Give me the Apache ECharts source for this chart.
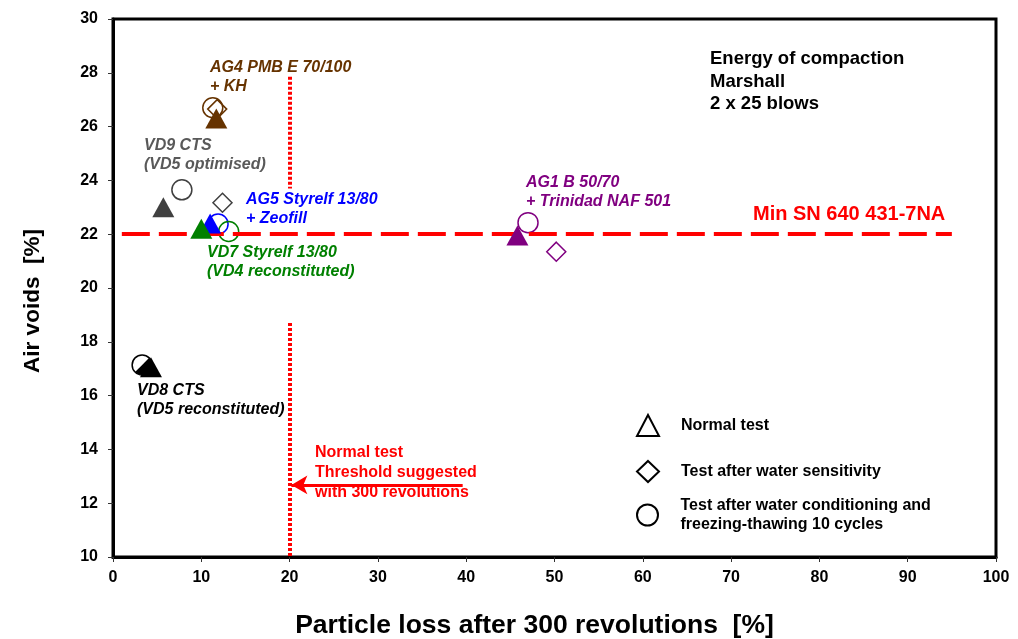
<!DOCTYPE html>
<html>
<head>
<meta charset="utf-8">
<script src="https://cdn.jsdelivr.net/npm/echarts@6/dist/echarts.min.js"></script>
<style>html,body{margin:0;padding:0;background:#fff}#c{width:1018px;height:639px}</style>
</head>
<body>
<div id="c"></div>
<script>
// ---- data ----
const groups = ['AG4 PMB E 70/100 + KH', 'VD9 CTS (VD5 optimised)', 'AG5 Styrelf 13/80 + Zeofill',
  'VD7 Styrelf 13/80 (VD4 reconstituted)', 'AG1 B 50/70 + Trinidad NAF 501', 'VD8 CTS (VD5 reconstituted)'];
const groupColors = ['#663300', '#404040', '#0000ff', '#008000', '#800080', '#000000'];
const normalTest = [[11.7, 26.3], [5.7, 23.0], [11.0, 22.4], [10.0, 22.2], [45.8, 21.95], [4.3, 17.05]];
const waterSensitivity = [[11.8, 26.65], [12.4, 23.17], null, null, [50.2, 21.35], null];
const freezeThaw = [[11.3, 26.7], [7.8, 23.65], [11.9, 22.38], [13.1, 22.1], [47.0, 22.43], [3.3, 17.14]];
const halfFilled = [false, false, false, false, false, true];
const minLimit = { y: 22, xFrom: 1, xTo: 95, label: 'Min SN 640 431-7NA' };
const threshold = { x: 20, segments: [[27.85, 23.7], [18.7, 10]] };
const arrow = { y: 12.68, xFrom: 39.6, xTo: 20.2 };
const xTicks = { min: 0, max: 100, interval: 10 };
const yTicks = { min: 10, max: 30, interval: 2 };
const legendNames = ['Normal test', 'Test after water sensitivity', 'Test after water conditioning and\nfreezing-thawing 10 cycles'];

const FONT = 'Liberation Sans, Arial, sans-serif';

function items(arr, fillSolid) {
  const out = [];
  arr.forEach((p, i) => {
    if (!p) return;
    out.push({
      value: p,
      itemStyle: fillSolid
        ? { color: groupColors[i], borderColor: groupColors[i], borderWidth: 0, opacity: 1 }
        : { color: 'rgba(0,0,0,0)', borderColor: groupColors[i], borderWidth: 1.5, opacity: 1 }
    });
  });
  return out;
}

const chart = echarts.init(document.getElementById('c'), null, { renderer: 'canvas' });

function txt(lines, x, yTop, color, size, lh, italic) {
  return {
    type: 'text', left: x, top: yTop, z: 50,
    style: {
      text: lines.join('\n'), fill: color, font: (italic ? 'italic ' : '') + 'bold ' + size + 'px ' + FONT,
      lineHeight: lh
    }
  };
}

const legendCommon = {
  orient: 'vertical', itemWidth: 22, itemHeight: 21, selectedMode: false,
  textStyle: { fontFamily: FONT, fontWeight: 'bold', fontSize: 16, color: '#000', lineHeight: 19, padding: [0, 0, 0, 17] }
};
const legendIcon = { color: '#fff', borderColor: '#000', borderWidth: 2, opacity: 1 };

chart.setOption({
  animation: false,
  backgroundColor: '#fff',
  grid: { left: 113, right: 22, top: 19, bottom: 82, outerBoundsMode: 'none', containLabel: false, show: true, borderColor: '#000', borderWidth: 3, backgroundColor: 'transparent' },
  xAxis: {
    type: 'value', min: xTicks.min, max: xTicks.max, interval: xTicks.interval,
    name: 'Particle loss after 300 revolutions  [%]', nameLocation: 'middle', nameGap: 55,
    nameTextStyle: { fontFamily: FONT, fontWeight: 'bold', fontSize: 26.5, color: '#000', padding: [0, 40, 0, 0] },
    axisLine: { show: true, lineStyle: { color: '#000', width: 3 } },
    axisTick: { show: true, inside: false, length: 5, lineStyle: { color: '#333', width: 1 } },
    axisLabel: { fontFamily: FONT, fontWeight: 'bold', fontSize: 16, color: '#000', margin: 13 },
    splitLine: { show: false }
  },
  yAxis: {
    type: 'value', min: yTicks.min, max: yTicks.max, interval: yTicks.interval,
    name: 'Air voids  [%]', nameLocation: 'middle', nameGap: 69,
    nameTextStyle: { fontFamily: FONT, fontWeight: 'bold', fontSize: 22.5, color: '#000', padding: [0, 26, 0, 0] },
    axisLine: { show: true, lineStyle: { color: '#000', width: 3 } },
    axisTick: { show: true, inside: false, length: 5, lineStyle: { color: '#333', width: 1 } },
    axisLabel: { fontFamily: FONT, fontWeight: 'bold', fontSize: 16, color: '#000', margin: 15 },
    splitLine: { show: false }
  },
  legend: [
    Object.assign({}, legendCommon, { left: 631, top: 409, data: [{ name: legendNames[0], icon: 'triangle', itemStyle: legendIcon }] }),
    Object.assign({}, legendCommon, { left: 631, top: 455, data: [{ name: legendNames[1], icon: 'diamond', itemStyle: legendIcon }] }),
    Object.assign({}, legendCommon, { left: 631, top: 491, data: [{ name: legendNames[2], icon: 'circle', itemStyle: legendIcon }] })
  ],
  series: [
    {
      name: 'lines', type: 'line', data: [], z: 1,
      markLine: {
        silent: true, symbol: 'none', animation: false, label: { show: false },
        data: [
          [{ coord: [minLimit.xFrom, minLimit.y], lineStyle: { color: '#ff0000', width: 4, type: [28, 9] } }, { coord: [minLimit.xTo, minLimit.y] }],
          [{ coord: [threshold.x, threshold.segments[0][0]], lineStyle: { color: '#ff0000', width: 4, type: [3, 2] } }, { coord: [threshold.x, threshold.segments[0][1]] }],
          [{ coord: [threshold.x, threshold.segments[1][0]], lineStyle: { color: '#ff0000', width: 4, type: [3, 2] } }, { coord: [threshold.x, threshold.segments[1][1]] }]
        ]
      }
    },
    {
      name: 'arrow', type: 'line', data: [], z: 1,
      markLine: {
        silent: true, symbol: ['none', 'arrow'], symbolSize: [14, 16], animation: false, label: { show: false },
        data: [[{ coord: [arrow.xFrom, arrow.y], lineStyle: { color: '#ff0000', width: 3, type: 'solid' } }, { coord: [arrow.xTo, arrow.y] }]]
      }
    },
    {
      name: legendNames[2], type: 'scatter', symbol: 'circle', symbolSize: 20, z: 3,
      itemStyle: legendIcon,
      data: items(freezeThaw, false)
    },
    {
      name: 'half', type: 'custom', z: 3,
      renderItem: function (params, api) {
        const p = api.coord([api.value(0), api.value(1)]);
        return {
          type: 'sector',
          shape: { cx: p[0], cy: p[1], r0: 0, r: 10, startAngle: -Math.PI / 4, endAngle: 3 * Math.PI / 4, clockwise: true },
          style: { fill: '#000' }
        };
      },
      data: freezeThaw.filter((p, i) => halfFilled[i])
    },
    {
      name: legendNames[1], type: 'scatter', symbol: 'diamond', symbolSize: [19, 19], z: 4,
      itemStyle: legendIcon,
      data: items(waterSensitivity, false)
    },
    {
      name: legendNames[0], type: 'scatter', symbol: 'triangle', symbolSize: [22, 20], z: 5,
      itemStyle: legendIcon,
      data: items(normalTest, true)
    }
  ],
  graphic: [
    txt(['AG4 PMB E 70/100', '+ KH'], 210, 58, '#663300', 16, 19, true),
    txt(['VD9 CTS', '(VD5 optimised)'], 144, 136, '#595959', 16, 19, true),
    txt(['AG5 Styrelf 13/80', '+ Zeofill'], 246, 190, '#0000ff', 16, 19, true),
    txt(['VD7 Styrelf 13/80', '(VD4 reconstituted)'], 207, 243, '#008000', 16, 19, true),
    txt(['AG1 B 50/70', '+ Trinidad NAF 501'], 526, 173, '#800080', 16, 19, true),
    txt(['VD8 CTS', '(VD5 reconstituted)'], 137, 381, '#000000', 16, 19, true),
    txt(['Energy of compaction', 'Marshall', '2 x 25 blows'], 710, 48, '#000000', 18.5, 22.5, false),
    txt([minLimit.label], 753, 203, '#ff0000', 20, 22, false),
    txt(['Normal test', 'Threshold suggested', 'with 300 revolutions'], 315, 443, '#ff0000', 16, 20, false)
  ]
});
</script>
</body>
</html>
